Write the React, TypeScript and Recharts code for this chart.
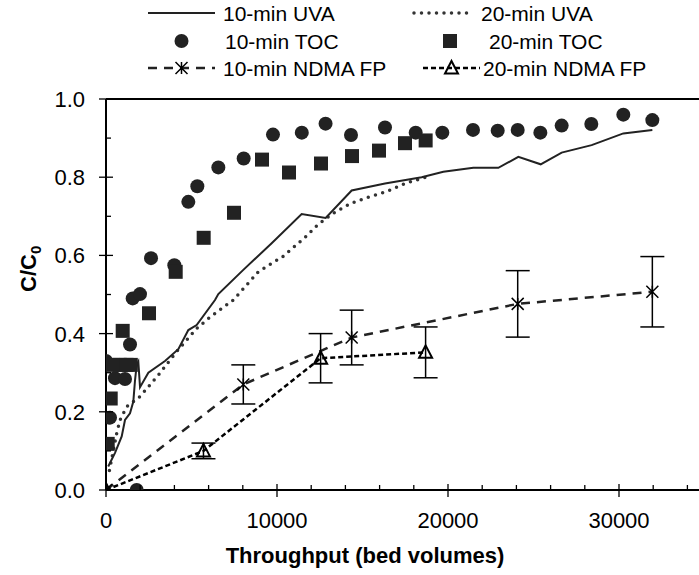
import React from 'react';
import { ComposedChart, Line, XAxis, YAxis, ErrorBar, ReferenceLine } from 'recharts';

const FONT = '"Liberation Sans", Arial, Helvetica, sans-serif';
const INK = '#222';

// [bed volumes, C/C0]
const uva10 = [
  [130, 0.06], [526, 0.095], [918, 0.137], [1111, 0.179], [1404, 0.196], [1598, 0.226],
  [1696, 0.28], [1795, 0.32], [1890, 0.328], [1990, 0.263], [2476, 0.3], [3450, 0.33],
  [4230, 0.36], [4815, 0.409], [5302, 0.422], [6374, 0.486], [6569, 0.501], [8030, 0.563],
  [9688, 0.631], [11442, 0.706], [12846, 0.696], [14366, 0.766], [16316, 0.784], [18460, 0.8],
  [19727, 0.814], [21480, 0.824], [22943, 0.824], [24113, 0.852], [25420, 0.833], [26647, 0.863],
  [28400, 0.882], [30253, 0.912], [31950, 0.921],
];
const uva20 = [
  [200, 0.05], [626, 0.145], [820, 0.179], [1210, 0.213], [1988, 0.239], [3060, 0.294],
  [4134, 0.354], [5302, 0.413], [6082, 0.442], [7446, 0.486], [8908, 0.558], [10370, 0.598],
  [11637, 0.646], [12417, 0.68], [13294, 0.708], [14308, 0.733], [15340, 0.749], [16413, 0.763],
  [17485, 0.784], [18700, 0.8],
];
const toc10 = [
  [0, 0.33], [234, 0.185], [526, 0.286], [1111, 0.284], [1404, 0.372], [1560, 0.49], [1795, 0],
  [1988, 0.501], [2632, 0.593], [3996, 0.575], [4815, 0.737], [5341, 0.777], [6569, 0.825],
  [8051, 0.848], [9766, 0.909], [11450, 0.914], [12840, 0.937], [14327, 0.908], [16316, 0.927],
  [18110, 0.914], [19667, 0.914], [21462, 0.921], [22906, 0.919], [24076, 0.921], [25400, 0.914],
  [26647, 0.932], [28380, 0.936], [30253, 0.96], [31950, 0.946],
];
const toc20 = [
  [100, 0.118], [275, 0.234], [400, 0.32], [800, 0.32], [976, 0.407], [1200, 0.32], [1450, 0.32],
  [2515, 0.452], [4076, 0.558], [5712, 0.645], [7485, 0.709], [9123, 0.845], [10702, 0.812],
  [12573, 0.835], [14386, 0.854], [15965, 0.868], [17485, 0.887], [18693, 0.894],
];
// [bed volumes, C/C0, error]
const ndma10 = [[0, 0, null], [8030, 0.27, 0.05], [14366, 0.39, 0.07], [24076, 0.476, 0.085], [31950, 0.507, 0.09]];
const ndma20 = [[0, 0, null], [5700, 0.1, 0.02], [12550, 0.337, 0.063], [18690, 0.352, 0.065]];

const xTicks = [0, 2000, 4000, 6000, 8000, 10000, 12000, 14000, 16000, 18000, 20000, 22000, 24000, 26000, 28000, 30000, 32000, 34000];
const yTicks = [0, 0.1, 0.2, 0.3, 0.4, 0.5, 0.6, 0.7, 0.8, 0.9, 1.0];

const toPoints = (rows: any[]) => rows.map(([x, y, err]) => ({ x, y, err }));

const PLOT_LEFT = 106;
const PLOT_BOTTOM = 490;

const XTick = (props: any) => {
  const { x, payload } = props;
  const v = payload.value;
  const major = v % 10000 === 0;
  return (
    <g>
      <line x1={x} x2={x} y1={PLOT_BOTTOM - (major ? 6 : 5)} y2={PLOT_BOTTOM + (major ? 7 : 0)} stroke="#000" strokeWidth={1.3} />
      {major && (
        <text x={x} y={528} textAnchor="middle" fontSize={22} fontFamily={FONT} fill="#000">{v}</text>
      )}
    </g>
  );
};

const YTick = (props: any) => {
  const { y, payload } = props;
  const v = payload.value;
  const major = Math.round(v * 10) % 2 === 0;
  return (
    <g>
      <line x1={major ? PLOT_LEFT - 7 : PLOT_LEFT} x2={PLOT_LEFT + (major ? 7 : 5)} y1={y} y2={y} stroke="#000" strokeWidth={1.3} />
      {major && (
        <text x={85} y={y + 8} textAnchor="end" fontSize={22} fontFamily={FONT} fill="#000">{v.toFixed(1)}</text>
      )}
    </g>
  );
};

const circleDot = (p: any) => <circle key={p.key} cx={p.cx} cy={p.cy} r={7} fill={INK} />;
const squareDot = (p: any) => <rect key={p.key} x={p.cx - 7} y={p.cy - 7} width={14} height={14} fill={INK} />;
const crossDot = (p: any) => (
  <path key={p.key} d={`M${p.cx - 6},${p.cy - 6}L${p.cx + 6},${p.cy + 6}M${p.cx - 6},${p.cy + 6}L${p.cx + 6},${p.cy - 6}M${p.cx},${p.cy - 6}L${p.cx},${p.cy + 6}`} stroke="#000" strokeWidth={1.5} fill="none" />
);
const triDot = (p: any) => (
  <path key={p.key} d={`M${p.cx},${p.cy - 7}L${p.cx + 6.5},${p.cy + 5.5}L${p.cx - 6.5},${p.cy + 5.5}Z`} stroke="#000" strokeWidth={2} fill="none" />
);

const LegendOverlay = () => {
  const rows = [13, 41, 68];
  const txt = (x: number, y: number, s: string) => (
    <text x={x} y={y + 7.5} fontSize={21} fontFamily={FONT} fill="#000">{s}</text>
  );
  return (
    <svg width={699} height={95} style={{ position: 'absolute', left: 0, top: 0 }}>
      <line x1={148} x2={215} y1={rows[0]} y2={rows[0]} stroke={INK} strokeWidth={2} />
      {txt(223, rows[0], '10-min UVA')}
      <line x1={414} x2={473} y1={rows[0]} y2={rows[0]} stroke="#333" strokeWidth={3.5} strokeDasharray="0 7.5" strokeLinecap="round" />
      {txt(481, rows[0], '20-min UVA')}
      <circle cx={181.5} cy={rows[1]} r={7} fill={INK} />
      {txt(225, rows[1], '10-min TOC')}
      <rect x={443} y={rows[1] - 7} width={14} height={14} fill={INK} />
      {txt(489, rows[1], '20-min TOC')}
      <line x1={148} x2={215} y1={rows[2]} y2={rows[2]} stroke={INK} strokeWidth={2.5} strokeDasharray="9 7" />
      {crossDot({ cx: 181.5, cy: rows[2] })}
      {txt(223, rows[2], '10-min NDMA FP')}
      <line x1={423} x2={480} y1={rows[2]} y2={rows[2]} stroke="#000" strokeWidth={2.5} strokeDasharray="5 3" />
      {triDot({ cx: 451.5, cy: rows[2] })}
      {txt(483, rows[2], '20-min NDMA FP')}
    </svg>
  );
};

const App: React.FC = () => {
  return (
    <div style={{ position: 'fixed', left: 0, top: 0, width: 699, height: 575, overflow: 'hidden', background: '#fff' }}>
      <ComposedChart
        width={712}
        height={575}
        margin={{ top: 99, right: 7.5, bottom: 25, left: 0 }}
        style={{ position: 'absolute', left: 0, top: 0 }}
      >
        <XAxis
          type="number"
          dataKey="x"
          domain={[0, 35000]}
          ticks={xTicks}
          interval={0}
          allowDataOverflow
          height={60}
          axisLine={{ stroke: '#000', strokeWidth: 2 }}
          tickLine={false}
          tick={<XTick />}
          label={{
            content: () => (
              <text x={365} y={563} textAnchor="middle" fontSize={22} fontWeight="bold" fontFamily={FONT} fill="#000">
                Throughput (bed volumes)
              </text>
            ),
          }}
        />
        <YAxis
          type="number"
          dataKey="y"
          domain={[0, 1]}
          ticks={yTicks}
          interval={0}
          allowDataOverflow
          width={106}
          axisLine={{ stroke: '#000', strokeWidth: 2 }}
          tickLine={false}
          tick={<YTick />}
          label={{
            content: () => (
              <text transform="translate(36,292) rotate(-90)" textAnchor="start" fontSize={22} fontWeight="bold" fontFamily={FONT} fill="#000">
                C/C<tspan fontSize={15} dy={5}>0</tspan>
              </text>
            ),
          }}
        />
        <ReferenceLine y={1} stroke="#000" strokeWidth={2} ifOverflow="extendDomain" />
        <Line data={toPoints(uva20)} dataKey="y" type="linear" stroke="#333" strokeWidth={3.5} strokeDasharray="0 7.5" strokeLinecap="round" dot={false} isAnimationActive={false} />
        <Line data={toPoints(uva10)} dataKey="y" type="linear" stroke={INK} strokeWidth={2} dot={false} isAnimationActive={false} />
        <Line data={toPoints(toc10)} dataKey="y" stroke="none" dot={circleDot} isAnimationActive={false} />
        <Line data={toPoints(toc20)} dataKey="y" stroke="none" dot={squareDot} isAnimationActive={false} />
        <Line data={toPoints(ndma10)} dataKey="y" type="linear" stroke={INK} strokeWidth={2.5} strokeDasharray="9 7" dot={crossDot} isAnimationActive={false}>
          <ErrorBar dataKey="err" direction="y" width={12} stroke="#000" strokeWidth={1.5} />
        </Line>
        <Line data={toPoints(ndma20)} dataKey="y" type="linear" stroke="#000" strokeWidth={2.5} strokeDasharray="5 3" dot={triDot} isAnimationActive={false}>
          <ErrorBar dataKey="err" direction="y" width={12} stroke="#000" strokeWidth={1.5} />
        </Line>
      </ComposedChart>
      <LegendOverlay />
    </div>
  );
};

export default App;
